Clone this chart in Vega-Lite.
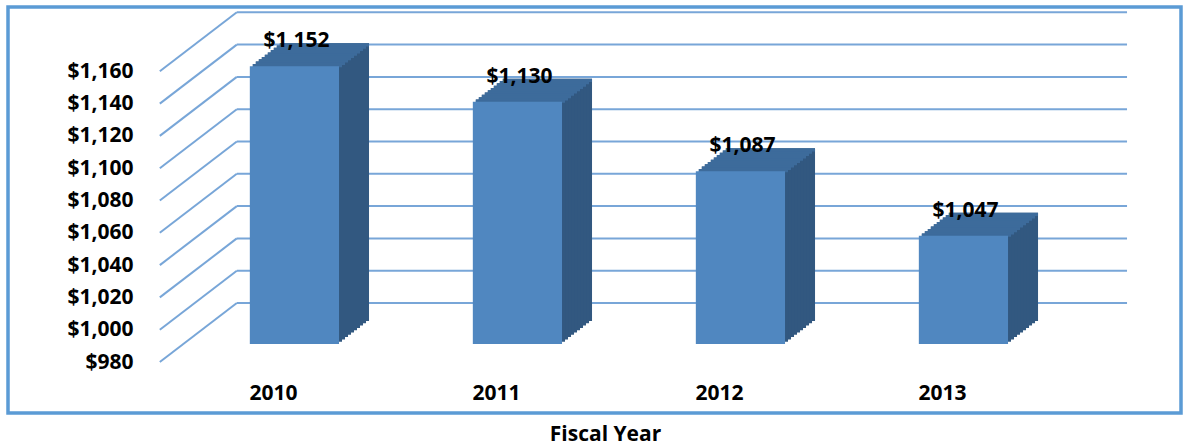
{
  "$schema": "https://vega.github.io/schema/vega-lite/v6.json",
  "width": 1173,
  "height": 406,
  "autosize": "none",
  "padding": {"left": 8, "top": 7, "right": 6, "bottom": 32},
  "background": "white",
  "config": {
    "view": {"stroke": "#5B9BD5", "strokeWidth": 3.5},
    "font": "Open Sans"
  },
  "datasets": {
    "costs": [
      {"year": "2010", "cost": 1152},
      {"year": "2011", "cost": 1130},
      {"year": "2012", "cost": 1087},
      {"year": "2013", "cost": 1047}
    ],
    "grid": [
      {"v": 980}, {"v": 1000}, {"v": 1020}, {"v": 1040}, {"v": 1060},
      {"v": 1080}, {"v": 1100}, {"v": 1120}, {"v": 1140}, {"v": 1160}
    ]
  },
  "layer": [
    {
      "data": {"name": "grid"},
      "mark": {"type": "rule", "color": "#78A6D8", "strokeWidth": 2, "xOffset": -13, "x2Offset": 119, "yOffset": -41},
      "encoding": {
        "x": {"datum": "2010", "bandPosition": 0, "type": "nominal",
          "scale": {"domain": ["2010", "2011", "2012", "2013"], "paddingInner": 0.6, "paddingOuter": 0.93, "align": 0.583},
          "axis": {"title": "Fiscal Year", "domain": false, "ticks": false, "grid": false, "labelPadding": -14, "labelBaseline": "alphabetic", "labelOffset": -21, "labelFont": "Open Sans", "labelFontSize": 21, "labelFontWeight": "bold", "labelColor": "black", "labelAngle": 0, "titleFont": "Open Sans", "titleFontSize": 21, "titleFontWeight": "bold", "titleColor": "black", "titleX": 597, "titleY": 27, "titleBaseline": "alphabetic", "titleAlign": "center"}},
        "x2": {"datum": "2013", "bandPosition": 1},
        "y": {"field": "v", "type": "quantitative",
          "scale": {"domain": [937.28, 1188.67], "nice": false, "zero": false},
          "axis": {"values": [980, 1000, 1020, 1040, 1060, 1080, 1100, 1120, 1140, 1160], "format": "$,.0f", "domain": false, "ticks": false, "grid": false, "labelPadding": -125, "labelOffset": 18, "labelFont": "Open Sans", "labelFontSize": 21, "labelFontWeight": "bold", "labelColor": "black", "labelBaseline": "middle", "labelOverlap": false, "labelFlush": false, "title": null}}
      }
    },
    {
      "data": {"name": "grid"},
      "mark": {"type": "rule", "color": "#78A6D8", "strokeWidth": 2, "xOffset": -90, "x2Offset": -13, "yOffset": 18, "y2Offset": -41},
      "encoding": {
        "x": {"datum": "2010", "bandPosition": 0, "type": "nominal"},
        "x2": {"datum": "2010", "bandPosition": 0},
        "y": {"field": "v", "type": "quantitative"},
        "y2": {"field": "v"}
      }
    },
    {"data": {"name": "costs"}, "mark": {"type": "bar", "color": "#325880", "xOffset": 30, "yOffset": -23, "y2Offset": -23},
      "encoding": {"x": {"field": "year", "type": "nominal"}, "y": {"field": "cost", "type": "quantitative"}, "y2": {"datum": 980}}},
    {"data": {"name": "costs"}, "mark": {"type": "bar", "color": "#325880", "xOffset": 27, "yOffset": -20.7, "y2Offset": -20.7},
      "encoding": {"x": {"field": "year", "type": "nominal"}, "y": {"field": "cost", "type": "quantitative"}, "y2": {"datum": 980}}},
    {"data": {"name": "costs"}, "mark": {"type": "bar", "color": "#325880", "xOffset": 24, "yOffset": -18.4, "y2Offset": -18.4},
      "encoding": {"x": {"field": "year", "type": "nominal"}, "y": {"field": "cost", "type": "quantitative"}, "y2": {"datum": 980}}},
    {"data": {"name": "costs"}, "mark": {"type": "bar", "color": "#325880", "xOffset": 21, "yOffset": -16.1, "y2Offset": -16.1},
      "encoding": {"x": {"field": "year", "type": "nominal"}, "y": {"field": "cost", "type": "quantitative"}, "y2": {"datum": 980}}},
    {"data": {"name": "costs"}, "mark": {"type": "bar", "color": "#325880", "xOffset": 18, "yOffset": -13.8, "y2Offset": -13.8},
      "encoding": {"x": {"field": "year", "type": "nominal"}, "y": {"field": "cost", "type": "quantitative"}, "y2": {"datum": 980}}},
    {"data": {"name": "costs"}, "mark": {"type": "bar", "color": "#325880", "xOffset": 15, "yOffset": -11.5, "y2Offset": -11.5},
      "encoding": {"x": {"field": "year", "type": "nominal"}, "y": {"field": "cost", "type": "quantitative"}, "y2": {"datum": 980}}},
    {"data": {"name": "costs"}, "mark": {"type": "bar", "color": "#325880", "xOffset": 12, "yOffset": -9.2, "y2Offset": -9.2},
      "encoding": {"x": {"field": "year", "type": "nominal"}, "y": {"field": "cost", "type": "quantitative"}, "y2": {"datum": 980}}},
    {"data": {"name": "costs"}, "mark": {"type": "bar", "color": "#325880", "xOffset": 9, "yOffset": -6.9, "y2Offset": -6.9},
      "encoding": {"x": {"field": "year", "type": "nominal"}, "y": {"field": "cost", "type": "quantitative"}, "y2": {"datum": 980}}},
    {"data": {"name": "costs"}, "mark": {"type": "bar", "color": "#325880", "xOffset": 6, "yOffset": -4.6, "y2Offset": -4.6},
      "encoding": {"x": {"field": "year", "type": "nominal"}, "y": {"field": "cost", "type": "quantitative"}, "y2": {"datum": 980}}},
    {"data": {"name": "costs"}, "mark": {"type": "bar", "color": "#325880", "xOffset": 3, "yOffset": -2.3, "y2Offset": -2.3},
      "encoding": {"x": {"field": "year", "type": "nominal"}, "y": {"field": "cost", "type": "quantitative"}, "y2": {"datum": 980}}},
    {"data": {"name": "costs"}, "mark": {"type": "bar", "color": "#3D6B9B", "xOffset": 3, "yOffset": -2.3, "y2Offset": 1},
      "encoding": {"x": {"field": "year", "type": "nominal"}, "y": {"field": "cost", "type": "quantitative"}, "y2": {"field": "cost"}}},
    {"data": {"name": "costs"}, "mark": {"type": "bar", "color": "#3D6B9B", "xOffset": 6, "yOffset": -4.6, "y2Offset": -1.3},
      "encoding": {"x": {"field": "year", "type": "nominal"}, "y": {"field": "cost", "type": "quantitative"}, "y2": {"field": "cost"}}},
    {"data": {"name": "costs"}, "mark": {"type": "bar", "color": "#3D6B9B", "xOffset": 9, "yOffset": -6.9, "y2Offset": -3.6},
      "encoding": {"x": {"field": "year", "type": "nominal"}, "y": {"field": "cost", "type": "quantitative"}, "y2": {"field": "cost"}}},
    {"data": {"name": "costs"}, "mark": {"type": "bar", "color": "#3D6B9B", "xOffset": 12, "yOffset": -9.2, "y2Offset": -5.9},
      "encoding": {"x": {"field": "year", "type": "nominal"}, "y": {"field": "cost", "type": "quantitative"}, "y2": {"field": "cost"}}},
    {"data": {"name": "costs"}, "mark": {"type": "bar", "color": "#3D6B9B", "xOffset": 15, "yOffset": -11.5, "y2Offset": -8.2},
      "encoding": {"x": {"field": "year", "type": "nominal"}, "y": {"field": "cost", "type": "quantitative"}, "y2": {"field": "cost"}}},
    {"data": {"name": "costs"}, "mark": {"type": "bar", "color": "#3D6B9B", "xOffset": 18, "yOffset": -13.8, "y2Offset": -10.5},
      "encoding": {"x": {"field": "year", "type": "nominal"}, "y": {"field": "cost", "type": "quantitative"}, "y2": {"field": "cost"}}},
    {"data": {"name": "costs"}, "mark": {"type": "bar", "color": "#3D6B9B", "xOffset": 21, "yOffset": -16.1, "y2Offset": -12.8},
      "encoding": {"x": {"field": "year", "type": "nominal"}, "y": {"field": "cost", "type": "quantitative"}, "y2": {"field": "cost"}}},
    {"data": {"name": "costs"}, "mark": {"type": "bar", "color": "#3D6B9B", "xOffset": 24, "yOffset": -18.4, "y2Offset": -15.1},
      "encoding": {"x": {"field": "year", "type": "nominal"}, "y": {"field": "cost", "type": "quantitative"}, "y2": {"field": "cost"}}},
    {"data": {"name": "costs"}, "mark": {"type": "bar", "color": "#3D6B9B", "xOffset": 27, "yOffset": -20.7, "y2Offset": -17.4},
      "encoding": {"x": {"field": "year", "type": "nominal"}, "y": {"field": "cost", "type": "quantitative"}, "y2": {"field": "cost"}}},
    {"data": {"name": "costs"}, "mark": {"type": "bar", "color": "#3D6B9B", "xOffset": 30, "yOffset": -23, "y2Offset": -19.7},
      "encoding": {"x": {"field": "year", "type": "nominal"}, "y": {"field": "cost", "type": "quantitative"}, "y2": {"field": "cost"}}},
    {"data": {"name": "costs"}, "mark": {"type": "bar", "color": "#5087C0"},
      "encoding": {"x": {"field": "year", "type": "nominal"}, "y": {"field": "cost", "type": "quantitative"}, "y2": {"datum": 980}}},
    {"data": {"name": "costs"}, "mark": {"type": "text", "font": "Open Sans", "fontSize": 21, "fontWeight": "bold", "color": "black", "baseline": "alphabetic", "align": "center", "xOffset": 2, "yOffset": -19},
      "encoding": {"x": {"field": "year", "type": "nominal"}, "y": {"field": "cost", "type": "quantitative"}, "text": {"field": "cost", "type": "quantitative", "format": "$,.0f"}}}
  ]
}
